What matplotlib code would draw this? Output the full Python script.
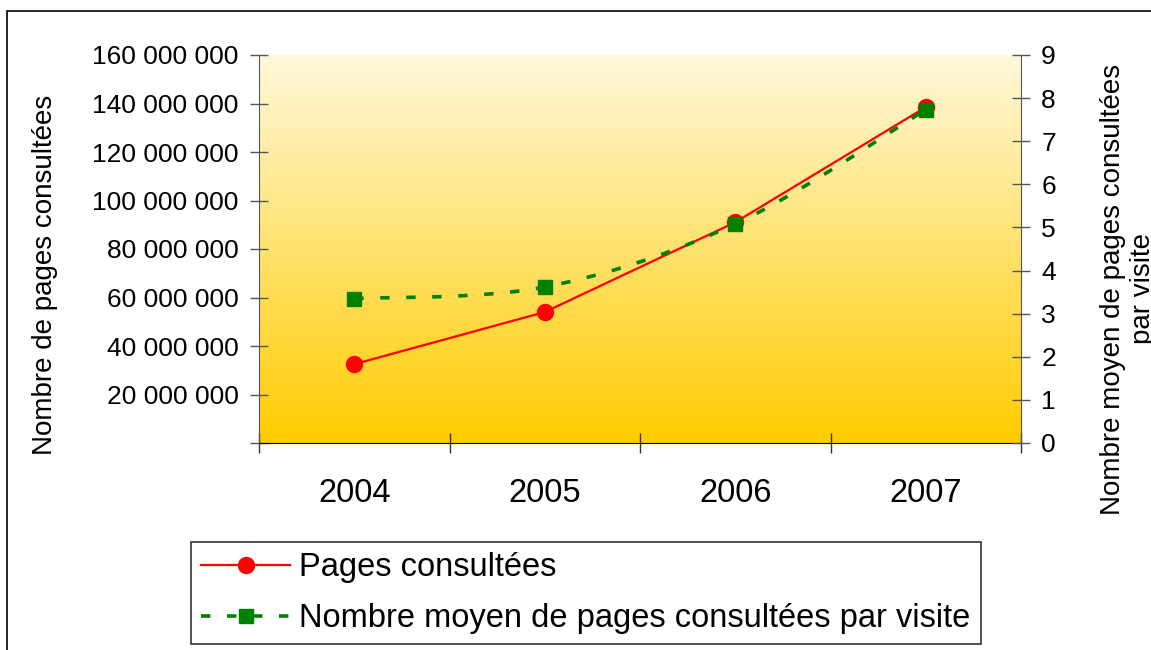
import numpy as np
import matplotlib
matplotlib.use('Agg')
import matplotlib.pyplot as plt
from matplotlib.colors import LinearSegmentedColormap
from matplotlib.lines import Line2D
from matplotlib.patches import Rectangle
from matplotlib.ticker import FuncFormatter

plt.rcParams['font.family'] = ['Liberation Sans', 'DejaVu Sans']

# donnees
annees = ['2004', '2005', '2006', '2007']
pages_consultees = [32500000, 54000000, 91000000, 138500000]
pages_par_visite = [3.35, 3.62, 5.08, 7.73]

ticks_gauche = [0, 20000000, 40000000, 60000000, 80000000,
                100000000, 120000000, 140000000, 160000000]
ticks_droite = [0, 1, 2, 3, 4, 5, 6, 7, 8, 9]

label_gauche = 'Nombre de pages consultées'
label_droite = 'Nombre moyen de pages consultées\npar visite'
legende = ['Pages consultées', 'Nombre moyen de pages consultées par visite']


def lissage(x, y, n=40):
    # courbe lissee facon Excel (bezier type catmull-rom)
    px = np.concatenate([[x[0]], x, [x[-1]]]).astype(float)
    py = np.concatenate([[y[0]], y, [y[-1]]]).astype(float)
    t = np.linspace(0, 1, n)
    xs, ys = [], []
    for i in range(len(x) - 1):
        p0 = np.array([px[i], py[i]])
        p1 = np.array([px[i + 1], py[i + 1]])
        p2 = np.array([px[i + 2], py[i + 2]])
        p3 = np.array([px[i + 3], py[i + 3]])
        c1 = p1 + (p2 - p0) / 6
        c2 = p2 - (p3 - p1) / 6
        for tt in t:
            b = ((1 - tt) ** 3) * p1 + 3 * ((1 - tt) ** 2) * tt * c1 \
                + 3 * (1 - tt) * tt ** 2 * c2 + tt ** 3 * p2
            xs.append(b[0])
            ys.append(b[1])
    return np.array(xs), np.array(ys)


fig = plt.figure(figsize=(11.51, 6.5), dpi=100)
ax = fig.add_axes([259 / 1151, 1 - 443 / 650, 762 / 1151, 388 / 650])
ax2 = ax.twinx()

x = np.arange(len(annees))

# fond en degrade
cmap = LinearSegmentedColormap.from_list('fond', ['#FFCC00', '#FFF8DC'])
grad = np.linspace(0, 1, 256).reshape(-1, 1)
ax.imshow(grad, extent=[-0.5, len(annees) - 0.5, 0, 160000000], origin='lower',
          aspect='auto', cmap=cmap, zorder=0)

ax.plot(x, pages_consultees, color='#FF0000', lw=1.6, marker='o', ms=11.5, zorder=3)

xs, ys = lissage(x, pages_par_visite)
ax2.plot(xs, ys, color='#008000', lw=2.6, dashes=(2.6, 4.6), dash_capstyle='butt', zorder=3)
ax2.plot(x, pages_par_visite, 's', color='#008000', ms=10.5, zorder=4)

ax.set_xlim(-0.5, len(annees) - 0.5)
ax.set_ylim(0, 160000000)
ax2.set_ylim(0, 9)

# axe x : graduations entre les categories, etiquettes au centre
ax.set_xticks(np.arange(-0.5, len(annees), 1.0))
ax.set_xticklabels([])
ax.set_xticks(x, minor=True)
ax.set_xticklabels(annees, minor=True, fontsize=23.5)
ax.tick_params(axis='x', which='major', direction='inout', length=14, width=1, color='#333333')
ax.tick_params(axis='x', which='minor', length=0, pad=25)

ax.set_yticks(ticks_gauche)
ax.yaxis.set_major_formatter(FuncFormatter(
    lambda v, p: '' if v == 0 else '{:,}'.format(int(v)).replace(',', ' ')))
ax.tick_params(axis='y', direction='inout', length=13, width=1, color='#555555',
               labelsize=19, pad=8)

ax2.set_yticks(ticks_droite)
ax2.tick_params(axis='y', direction='inout', length=13, width=1, color='#555555',
                labelsize=19, pad=8)

for a in (ax, ax2):
    a.spines['top'].set_visible(False)
ax.spines['right'].set_visible(False)
ax2.spines['left'].set_visible(False)
ax2.spines['bottom'].set_visible(False)
ax.spines['left'].set_color('#555555')
ax2.spines['right'].set_color('#555555')
ax.spines['bottom'].set_color('black')
ax.spines['bottom'].set_zorder(5)

fig.text(45 / 1151, 1 - 275 / 650, label_gauche, rotation=90, ha='center', va='center', fontsize=20)
fig.text(1128 / 1151, 1 - 289 / 650, label_droite, rotation=90, ha='center', va='center',
         multialignment='center', fontsize=20)

h1 = Line2D([], [], color='#FF0000', lw=1.6, marker='o', ms=11.5)
h2 = Line2D([], [], color='#008000', lw=2.6, dashes=(2.6, 4.6), dash_capstyle='butt',
            marker='s', ms=10.5)
leg = fig.legend([h1, h2], legende, loc='upper left',
                 bbox_to_anchor=(191 / 1151, 1 - 542 / 650), fontsize=23.5,
                 frameon=True, fancybox=False, edgecolor='#333333', framealpha=1,
                 handlelength=2.7, handletextpad=0.3, borderpad=0.32,
                 labelspacing=0.6, borderaxespad=0)
leg.get_frame().set_linewidth(1.2)

# cadre du graphique
fig.patches.append(Rectangle((7 / 1151, -0.1), 1.2, 1 - 11 / 650 + 0.1, transform=fig.transFigure,
                             fill=False, edgecolor='black', lw=1.2, clip_on=False))

plt.savefig('out.png', dpi=100)
